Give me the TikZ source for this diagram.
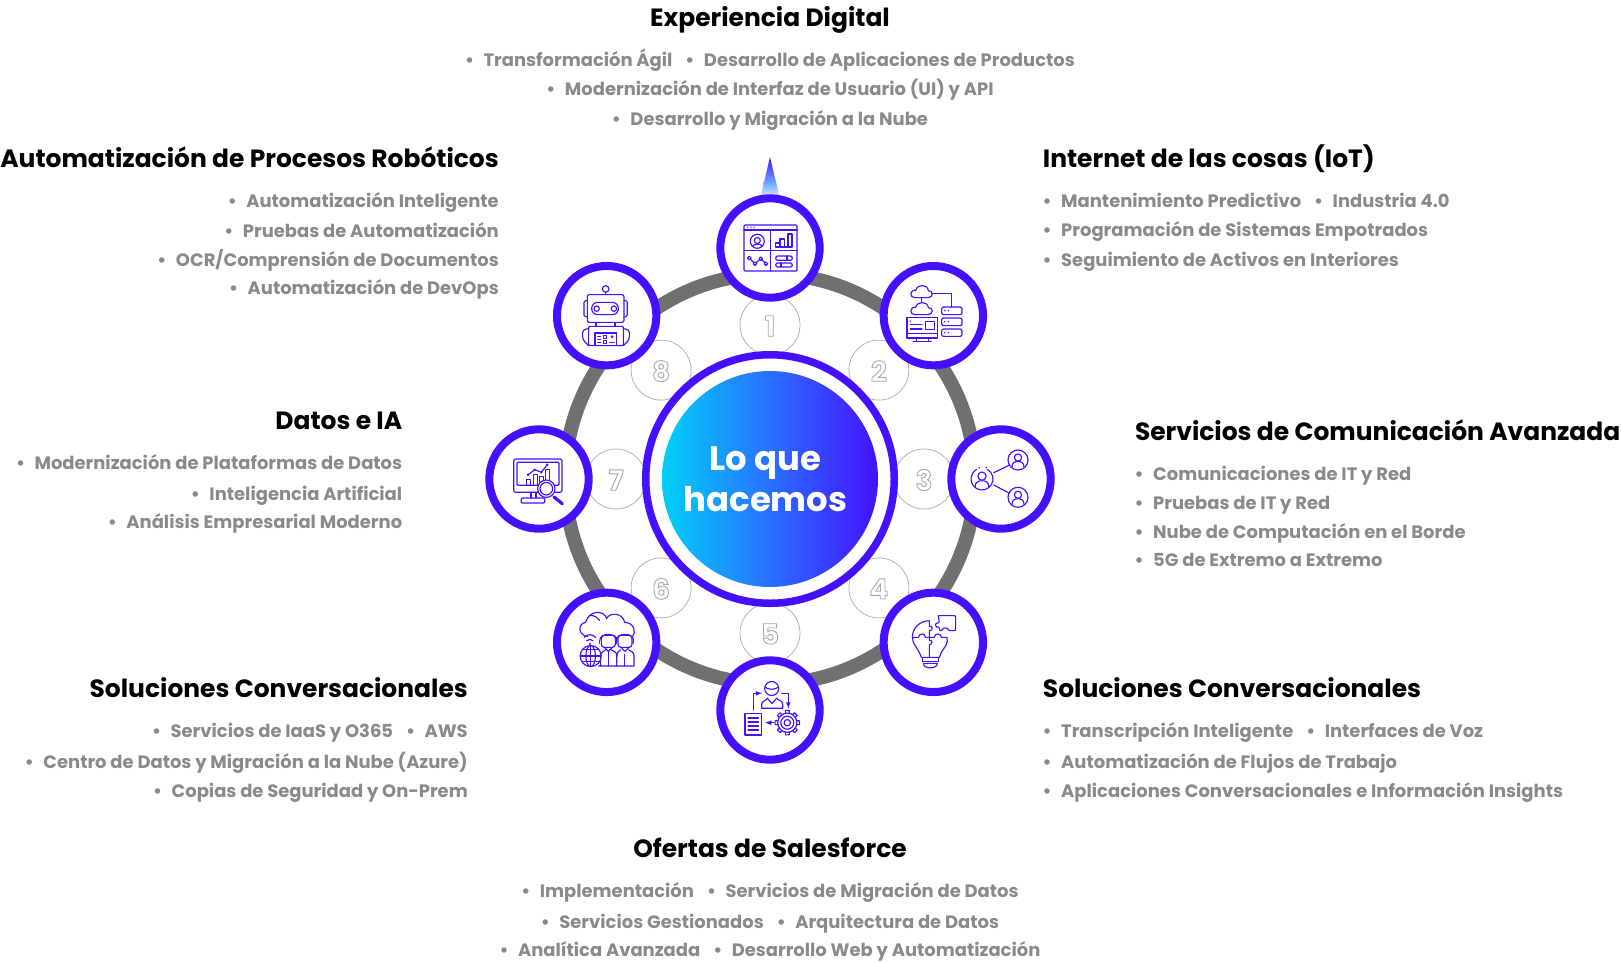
\documentclass[tikz,border=0pt]{standalone}
\usepackage{fontspec}
\setmainfont{Poppins}
\usetikzlibrary{calc}
\definecolor{vio}{HTML}{4510FF}
\definecolor{ringgray}{HTML}{707070}
\definecolor{txtgray}{HTML}{8A8A8A}
\definecolor{cya}{HTML}{00D0F8}
\definecolor{midb}{HTML}{2A70FF}
\definecolor{spkm}{HTML}{6FB0FF}
\definecolor{spkb}{HTML}{E8E6FF}
\tikzset{
 bigcirc/.style={circle,draw=vio,line width=8pt,fill=white,minimum size=99.4pt,inner sep=0pt},
 numcirc/.style={circle,draw=black!33,line width=0.7pt,fill=white,minimum size=60pt,inner sep=0pt},
 numtxt/.style={inner sep=0pt,font=\fontsize{28}{28}\selectfont\bfseries},
 head/.style={inner sep=0pt,font=\bfseries\fontsize{24.95}{25}\selectfont,text=black},
 item/.style={inner sep=0pt,yshift=0.5pt,font=\bfseries\fontsize{17.95}{18}\selectfont,text=txtgray},
 ico/.style={draw=vio,line width=1.15pt,line cap=round,line join=round},
}
\newcommand{\bl}{•\hspace{9.5pt}}
\newcommand{\sepb}{\hspace{13pt}}
\newcommand{\outl}[1]{\special{pdf:code q 1 Tr 0.9 w 0.66 G}#1\special{pdf:code Q}}
\newcommand{\cloudic}[2]{\begin{scope}[shift={(#1,#2)}]
 \draw[ico] (-6.5,6) -- (6.5,6) .. controls (12,6) and (12.5,-1) .. (7,-1) .. controls (6.5,-7.5) and (-4,-8) .. (-5.5,-1.5) .. controls (-12,-2) and (-12,6) .. (-6.5,6);
\end{scope}}
\newcommand{\personic}[3]{\begin{scope}[shift={(#1,#2)},scale=#3]
 \draw[ico] (0,-2.5) circle (3.6);
 \draw[ico] (-6,7) .. controls (-6,2.5) and (-3,2) .. (-2,1.6) -- (2,1.6) .. controls (3,2) and (6,2.5) .. (6,7);
\end{scope}}
\begin{document}
\begin{tikzpicture}[x=1pt,y=-1pt]
\useasboundingbox (0,0) rectangle (1622,962);
\coordinate (ctr) at (770,479);
% spike
\shade[top color=vio,bottom color=spkm] (770,157) -- (776.5,184) -- (763.5,184) -- cycle;
\shade[top color=spkm,bottom color=spkb] (763.5,184) -- (776.5,184) -- (779.5,197) -- (760.5,197) -- cycle;
% ring
\draw[ringgray,line width=14pt] (ctr) circle (205);
% number circles
\foreach \n/\a in {n1/-90,n2/-45,n3/0,n4/45,n5/90,n6/135,n7/180,n8/225}{
  \node[numcirc] (\n) at ($(ctr)+(\a:154)$) {};
}
\foreach \n/\t in {n1/1,n2/2,n3/3,n4/4,n5/5,n6/6,n7/7,n8/8}{
  \node[numtxt,yshift=-1pt] (\n t) at (\n) {\outl{\t}};
}
% centre
\node[circle,inner sep=0pt,minimum size=216pt,left color=cya,right color=vio,middle color=midb] (disc) at (ctr) {};
\node[circle,draw=vio,line width=7.5pt,minimum size=248.5pt,inner sep=0pt] (discring) at (ctr) {};
\node[inner sep=0pt,align=center,text=white,font=\bfseries\fontsize{33.9}{41}\selectfont] (title) at (765.5,479) {Lo que\\hacemos};
% icon circles
\foreach \n/\a in {i1/-90,i2/-45,i3/0,i4/45,i5/90,i6/135,i7/180,i8/225}{
  \node[bigcirc] (\n) at ($(ctr)+(\a:231)$) {};
}
% icon 1 dashboard
\begin{scope}[shift={(i1)}]
 \draw[ico,rounded corners=1pt] (-26,-23) rectangle (27,23);
 \draw[ico] (-26,-18) -- (27,-18) (0.7,-18) -- (0.7,23) (-26,2.3) -- (27,2.3);
 \foreach \x in {-22.5,-19,-16}{\fill[vio] (\x,-20.6) circle (0.7);}
 \draw[ico] (-12.7,-6.7) circle (7) (-12.7,-7.5) circle (3);
 \draw[ico] (-17.5,-1.8) .. controls (-16,-4.5) and (-9,-4.5) .. (-7.8,-1.8);
 \draw[ico] (5.7,-1) -- (5.7,-5) -- (10,-5) -- (10,-9) -- (14.5,-9) -- (14.5,-1) (10,-5) -- (10,-1) (5.7,-1) -- (22,-1) -- (22,-14) -- (18,-14) -- (18,-1);
 \draw[ico] (-20.7,10) -- (-15,15.7) -- (-9.3,10.7) -- (-4,15.7);
 \foreach \p in {(-20.7,10),(-15,15.7),(-9.3,10.7),(-4,15.7)}{\draw[ico,fill=white] \p circle (1.8);}
 \draw[ico,rounded corners=2pt] (5.7,8) rectangle (22.3,12.3) (5.7,15) rectangle (22.3,19);
 \draw[ico] (17,8) -- (17,12.3) (11,15) -- (11,19);
\end{scope}
% icon 2 cloud servers
\begin{scope}[shift={(i2)}]
 \cloudic{-12}{-24}
 \cloudic{-12}{-7}
 \draw[ico] (-12,-18) -- (-12,-14) (-2,-22) -- (18.3,-22) -- (18.3,-8.7);
 \foreach \y/\z in {-8.7/-1,2.3/10,13.3/20.7}{
  \draw[ico,rounded corners=2pt] (8.3,\y) rectangle (28.7,\z);
  \fill[vio] (11.5,\y+3.6) circle (0.8) (15,\y+3.6) circle (0.8);
 }
 \draw[ico] (-26.3,1.7) rectangle (4.3,22.3) (-26.3,18) -- (4.3,18);
 \draw[ico] (-8,5.7) rectangle (1,14);
 \draw[ico] (-23,9) -- (-11.3,9) (-23,13.3) -- (-11.3,13.3);
 \fill[vio] (-23,5.5) circle (0.8);
 \draw[ico] (-17,22.3) -- (-17,26) (-5,22.3) -- (-5,26) (-20,26) -- (-2,26);
\end{scope}
% icon 3 share
\begin{scope}[shift={(i3)}]
 \draw[ico] (-19,0) ++(-60:11) arc (-60:240:11);
 \fill[vio] (-21.7,-11.3) circle (0.8) (-14.5,-11.3) circle (0.8);
 \draw[ico] (17,-19) circle (10) (17,18.3) circle (10);
 \personic{-19}{0}{1.15}
 \personic{17}{-19}{1}
 \personic{17}{18.3}{1}
 \draw[ico] (-7.3,-6.3) -- (8.7,-14) (-7.3,6) -- (8.7,14.3);
\end{scope}
% icon 4 bulb puzzle
\begin{scope}[shift={(i4)}]
 \draw[ico] (-4,-21.5) .. controls (-14,-21.5) and (-21,-14) .. (-21,-5) .. controls (-21,2) and (-15,6) .. (-12,15) -- (6,15) .. controls (7.5,8) and (13,5) .. (14,-1) -- (13.5,-5);
 \draw[ico] (-4,-21.5) -- (-4,-16) .. controls (-1,-17) and (0.5,-12) .. (-4,-11.5) -- (-4,-5) -- (-4,-2) .. controls (-1,-3) and (0,2) .. (-4,2.5) -- (-4,15);
 \draw[ico] (-21,-5) -- (-15,-5) .. controls (-14,-9.5) and (-8,-9.5) .. (-8,-5) -- (-4,-5) -- (1,-5) .. controls (1,-9.5) and (8,-9.5) .. (8,-5) -- (13.5,-5);
 \draw[ico,rounded corners=1pt] (5,-26.7) -- (22.3,-26.7) -- (22.3,-11.7) -- (15,-11.7) .. controls (15,-15) and (9,-15) .. (9,-11.7) -- (6,-11.7) -- (6,-15.5) .. controls (2,-14) and (0.5,-20) .. (6,-19.5) -- (5,-26.7);
 \draw[ico] (-11,19.5) -- (5,19.5);
 \draw[ico] (-11,15) -- (-11,19.5) (5,15) -- (5,19.5);
 \draw[ico] (-10,21) .. controls (-10,27) and (4,27) .. (4,21) -- cycle;
\end{scope}
% icon 5 process
\begin{scope}[shift={(i5)}]
 \draw[ico] (1.7,-21.5) circle (7);
 \draw[ico] (-5,-23) .. controls (-2,-20) and (5,-20) .. (8.5,-23);
 \draw[ico] (-8.3,-1.7) -- (12.7,-1.7) -- (12.7,-6) .. controls (12.7,-9) and (8,-10) .. (6,-12) (-8.3,-1.7) -- (-8.3,-6) .. controls (-8.3,-9) and (-3,-10) .. (-2,-12);
 \draw[ico] (-2,-11) -- (2,-6.5) -- (6,-11);
 \draw[ico,-latex] (-16.7,0) -- (-16.7,-16.7) -- (-8,-16.7);
 \draw[ico,-latex] (11.7,-16.7) -- (18.3,-16.7) -- (18.3,-1.5);
 \draw[ico] (-25,3.3) rectangle (-8.3,25);
 \foreach \y in {8,12,16,20}{\draw[ico] (-22,\y) -- (-11.5,\y);}
 \draw[ico,-latex] (4,12.7) -- (-5,12.7);
 \foreach \a in {0,45,...,315}{
  \draw[ico,fill=white] ($(17.3,12.7)+(\a-12:9.5)$) -- ($(17.3,12.7)+(\a-9:12.3)$) -- ($(17.3,12.7)+(\a+9:12.3)$) -- ($(17.3,12.7)+(\a+12:9.5)$);
 }
 \draw[ico] (17.3,12.7) circle (9.6) (17.3,12.7) circle (6.5) (17.3,12.7) circle (3.2);
\end{scope}
% icon 6 cloud people
\begin{scope}[shift={(i6)}]
 \draw[ico] (-19,-6) .. controls (-29,-7) and (-29,-19) .. (-21,-20) .. controls (-18,-32) and (-3,-33) .. (0,-24) .. controls (3,-30) and (16,-30) .. (18,-20) .. controls (27,-20) and (30,-10) .. (26,-6);
 \draw[ico] (-17,-27) .. controls (-12,-27) and (-9,-25) .. (-7,-22);
 \draw[ico] (-22.5,-5) .. controls (-19,-8.5) and (-14.5,-8.5) .. (-11,-5);
 \draw[ico] (-20,-1.5) .. controls (-18,-3.5) and (-15.5,-3.5) .. (-13.5,-1.5);
 \fill[vio] (-16.7,1.5) circle (1.2);
 \draw[ico,fill=white] (-16,13.7) circle (10.5) (-16,13.7) ellipse (4.8 and 10.5);
 \draw[ico] (-26.5,13.7) -- (-5.5,13.7) (-24.5,7.5) -- (-7.5,7.5) (-24.5,19.5) -- (-7.5,19.5) (-16,3.2) -- (-16,24.2);
 \foreach \x in {1.7,18.3}{
  \draw[ico,fill=white,rounded corners=3pt] (\x-7,-7) rectangle (\x+7,5);
  \draw[ico] (\x-8.5,-2) .. controls (\x-9,-10) and (\x+9,-10) .. (\x+8.5,-2);
  \draw[ico] (\x-8.5,-2) -- (\x-8.5,1) (\x+8.5,-2) -- (\x+8.5,1);
  \draw[ico] (\x-4,5) -- (\x,9) -- (\x+4,5);
 }
 \draw[ico] (-6,23.7) -- (-6,13) .. controls (-6,9) and (-2,9) .. (-1,7.5);
 \draw[ico] (4.5,7.5) .. controls (7,9.5) and (10,9) .. (10,13) -- (10,23.7) .. controls (10,13) and (10,9) .. (14,7.5);
 \draw[ico] (22,7.5) .. controls (24,9.5) and (27.3,9) .. (27.3,13) -- (27.3,23.7) -- (-8,23.7);
 \draw[ico] (1.7,9) -- (1.7,23.7) (18,12) -- (18,23.7);
\end{scope}
% icon 7 analytics
\begin{scope}[shift={(i7)}]
 \draw[ico,rounded corners=2pt] (-25.3,-20) rectangle (23,13.3);
 \draw[ico,rounded corners=1pt] (-22,-16.7) rectangle (20,6.3);
 \draw[ico] (-8,13.3) -- (-8,19) (-3,13.3) -- (-3,19);
 \draw[ico,rounded corners=1pt] (-17.7,19) rectangle (5.7,24);
 \draw[ico] (-12.7,6.3) -- (-12.7,0.7) -- (-8.7,0.7) -- (-8.7,6.3);
 \draw[ico] (-5.3,6.3) -- (-5.3,-4.3) -- (-1.3,-4.3) -- (-1.3,6.3);
 \draw[ico] (0.5,6.3) -- (0.5,-2.5) -- (4.5,-2.5) -- (4.5,6.3);
 \draw[ico] (6.7,6.3) -- (6.7,-9.3) -- (10.7,-9.3) -- (10.7,6.3);
 \draw[ico] (-11,-4.3) -- (-4.3,-9.3) -- (2.3,-6.7) -- (8.3,-14.3);
 \foreach \p in {(-11,-4.3),(-4.3,-9.3),(2.3,-6.7),(8.3,-14.3)}{\fill[vio] \p circle (1.3);}
 \draw[ico,fill=white] (7.3,9.7) circle (8.7);
 \draw[ico] (7.3,9.7) circle (6.3);
 \draw[ico,line width=3.2pt] (15,18) -- (23.3,24.7);
\end{scope}
% icon 8 robot
\begin{scope}[shift={(i8)}]
 \draw[ico] (-1,-26.7) circle (3.3) (-1,-23.4) -- (-1,-21);
 \draw[ico,rounded corners=2pt] (-19.3,-21) rectangle (17.3,6.7);
 \draw[ico,rounded corners=1.5pt] (-19.3,-15) -- (-22.6,-15) -- (-22.6,1) -- (-19.3,1) (17.3,-15) -- (20.6,-15) -- (20.6,1) -- (17.3,1);
 \draw[ico,rounded corners=6pt] (-15,-13.3) rectangle (11.7,-1);
 \draw[ico] (-10,-7) circle (2.7) (7.3,-7) circle (2.7);
 \draw[ico] (-10.7,6.7) -- (-10.7,10.7) (8.3,6.7) -- (8.3,10.7);
 \draw[ico,rounded corners=1pt] (-18,30) -- (-18,10.7) -- (16.7,10.7) -- (16.7,30) -- cycle;
 \draw[ico,rounded corners=3pt] (-18,13) -- (-24,14) -- (-24,24) -- (-18,30);
 \draw[ico,rounded corners=3pt] (16.7,13) -- (22.7,14) -- (22.7,24) -- (16.7,30);
 \draw[ico] (-11.7,17.3) rectangle (10,30);
 \draw[ico] (-9,20.5) -- (-6,20.5) (-9,24) -- (-6,24) (-9,27) -- (-6,27) (-3,19.5) rectangle (0,22.5) (-3,25) rectangle (0,28) (3,27) -- (7.5,27);
 \fill[vio] (5.5,21) circle (1.5);
\end{scope}
% texts
\node[head,anchor=base] (h1) at (770,26.5) {Experiencia Digital};
\node[item,anchor=base] (t1a) at (770,67) {\bl Transformación Ágil\sepb\bl Desarrollo de Aplicaciones de Productos};
\node[item,anchor=base] (t1b) at (770,96) {\bl Modernización de Interfaz de Usuario (UI) y API};
\node[item,anchor=base] (t1c) at (770,126) {\bl Desarrollo y Migración a la Nube};

\node[head,anchor=base east] (h2) at (499,167.5) {Automatización de Procesos Robóticos};
\node[item,anchor=base east] (t2a) at (499,208) {\bl Automatización Inteligente};
\node[item,anchor=base east] (t2b) at (499,238) {\bl Pruebas de Automatización};
\node[item,anchor=base east] (t2c) at (499,267) {\bl OCR/Comprensión de Documentos};
\node[item,anchor=base east] (t2d) at (499,295) {\bl Automatización de DevOps};

\node[head,anchor=base west] (h3) at (1042.7,167.5) {Internet de las cosas (IoT)};
\node[item,anchor=base west] (t3a) at (1042.5,208) {\bl Mantenimiento Predictivo\sepb\bl Industria 4.0};
\node[item,anchor=base west] (t3b) at (1042.5,237) {\bl Programación de Sistemas Empotrados};
\node[item,anchor=base west] (t3c) at (1042.5,267) {\bl Seguimiento de Activos en Interiores};

\node[head,anchor=base east] (h4) at (402.4,429) {Datos e IA};
\node[item,anchor=base east] (t4a) at (402.4,470) {\bl Modernización de Plataformas de Datos};
\node[item,anchor=base east] (t4b) at (402.4,501) {\bl Inteligencia Artificial};
\node[item,anchor=base east] (t4c) at (402.4,528.5) {\bl Análisis Empresarial Moderno};

\node[head,anchor=base west] (h5) at (1134.8,440.5) {Servicios de Comunicación Avanzada};
\node[item,anchor=base west] (t5a) at (1134.5,481) {\bl Comunicaciones de IT y Red};
\node[item,anchor=base west] (t5b) at (1134.5,510) {\bl Pruebas de IT y Red};
\node[item,anchor=base west] (t5c) at (1134.5,539) {\bl Nube de Computación en el Borde};
\node[item,anchor=base west] (t5d) at (1134.5,567) {\bl 5G de Extremo a Extremo};

\node[head,anchor=base east] (h6) at (468,697) {Soluciones Conversacionales};
\node[item,anchor=base east] (t6a) at (468,737.5) {\bl Servicios de IaaS y O365\sepb\bl AWS};
\node[item,anchor=base east] (t6b) at (468,768.5) {\bl Centro de Datos y Migración a la Nube (Azure)};
\node[item,anchor=base east] (t6c) at (468,797.5) {\bl Copias de Seguridad y On-Prem};

\node[head,anchor=base west] (h7) at (1042.7,697) {Soluciones Conversacionales};
\node[item,anchor=base west] (t7a) at (1042.5,737.5) {\bl Transcripción Inteligente\sepb\bl Interfaces de Voz};
\node[item,anchor=base west] (t7b) at (1042.5,768.5) {\bl Automatización de Flujos de Trabajo};
\node[item,anchor=base west] (t7c) at (1042.5,797.5) {\bl Aplicaciones Conversacionales e Información Insights};

\node[head,anchor=base] (h8) at (770,857.5) {Ofertas de Salesforce};
\node[item,anchor=base] (t8a) at (770,898) {\bl Implementación\sepb\bl Servicios de Migración de Datos};
\node[item,anchor=base] (t8b) at (770,929) {\bl Servicios Gestionados\sepb\bl Arquitectura de Datos};
\node[item,anchor=base] (t8c) at (770,957) {\bl Analítica Avanzada\sepb\bl Desarrollo Web y Automatización};
\end{tikzpicture}
\end{document}
